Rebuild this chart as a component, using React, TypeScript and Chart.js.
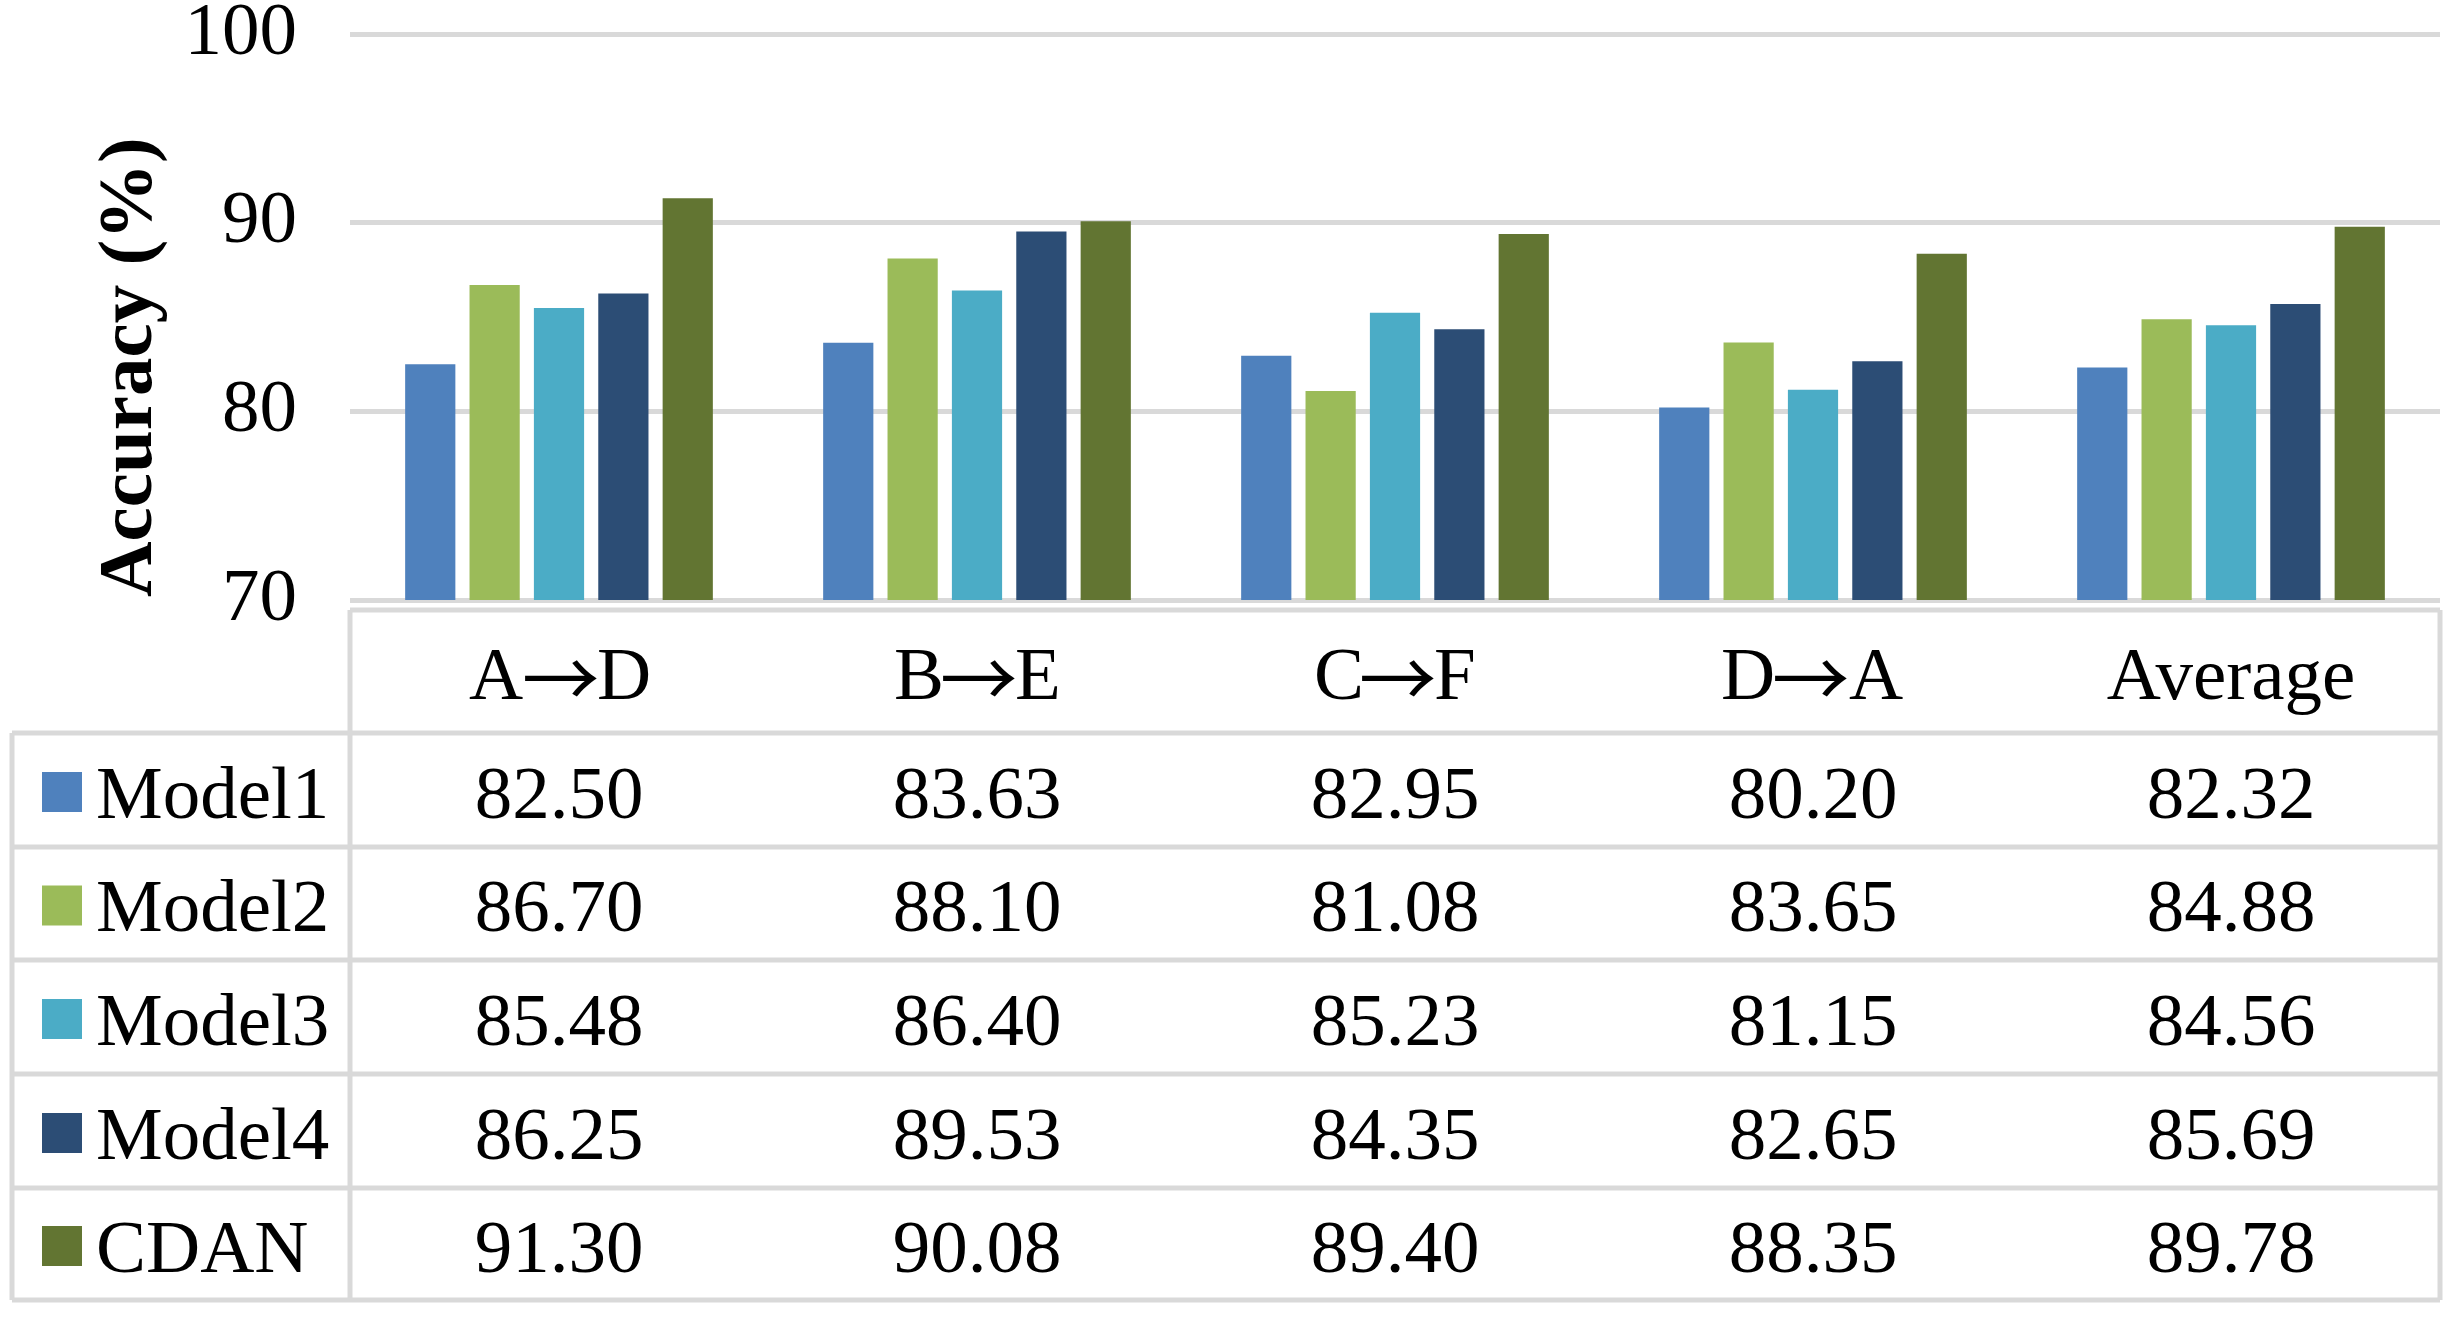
import React, { useEffect, useRef } from "react";
import { Chart, registerables } from "chart.js";

Chart.register(...registerables);

const categories = ["A→D", "B→E", "C→F", "D→A", "Average"];
const seriesNames = ["Model1", "Model2", "Model3", "Model4", "CDAN"];
const model1 = [82.5, 83.63, 82.95, 80.2, 82.32];
const model2 = [86.7, 88.1, 81.08, 83.65, 84.88];
const model3 = [85.48, 86.4, 85.23, 81.15, 84.56];
const model4 = [86.25, 89.53, 84.35, 82.65, 85.69];
const cdan = [91.3, 90.08, 89.4, 88.35, 89.78];
const seriesValues = [model1, model2, model3, model4, cdan];
const yTickValues = [70, 80, 90, 100];
const yTitle = "Accuracy (%)";

const seriesColors = ["#4F81BD", "#9BBB59", "#4BACC6", "#2C4D75", "#627532"];
const GRID = "#D9D9D9";
const FONT = "'Liberation Serif', 'Times New Roman', serif";
const ARROW_FONT = "'Noto Sans CJK SC'";
const FS = 75;

function drawHeaderLabel(ctx: CanvasRenderingContext2D, text: string, cx: number, baseline: number) {
  const idx = text.indexOf("→");
  ctx.textBaseline = "alphabetic";
  ctx.textAlign = "left";
  if (idx < 0) {
    ctx.font = `${FS}px ${FONT}`;
    const w = ctx.measureText(text).width;
    ctx.fillText(text, cx - w / 2, baseline);
    return;
  }
  const a = text.slice(0, idx);
  const b = text.slice(idx + 1);
  ctx.font = `${FS}px ${FONT}`;
  const ma = ctx.measureText(a);
  const mb = ctx.measureText(b);
  ctx.font = `100px ${ARROW_FONT}`;
  const m100 = ctx.measureText("→");
  const ink100 = m100.actualBoundingBoxRight + m100.actualBoundingBoxLeft;
  const arrowSize = (72 / ink100) * 100;
  ctx.font = `${arrowSize}px ${ARROW_FONT}`;
  const mr = ctx.measureText("→");
  const arrowInk = mr.actualBoundingBoxRight + mr.actualBoundingBoxLeft;
  const arrowMid = (mr.actualBoundingBoxAscent - mr.actualBoundingBoxDescent) / 2;
  const aInkR = ma.actualBoundingBoxRight;
  const bInkL = -mb.actualBoundingBoxLeft;
  const gap = 2;
  const total = ma.actualBoundingBoxLeft + aInkR + gap + arrowInk + gap + (mb.actualBoundingBoxRight - bInkL);
  let x = cx - total / 2 + ma.actualBoundingBoxLeft;
  ctx.font = `${FS}px ${FONT}`;
  ctx.fillText(a, x, baseline);
  x += aInkR + gap;
  ctx.font = `${arrowSize}px ${ARROW_FONT}`;
  ctx.fillText("→", x + mr.actualBoundingBoxLeft, baseline - 21 + arrowMid);
  x += arrowInk + gap;
  ctx.font = `${FS}px ${FONT}`;
  ctx.fillText(b, x - bInkL, baseline);
}

const decorPlugin = {
  id: "decor",
  afterDraw(chart: any) {
    const ctx = chart.ctx as CanvasRenderingContext2D;
    const xs = chart.scales.x;
    const area = chart.chartArea;
    ctx.save();

    // y-axis title
    ctx.save();
    ctx.translate(151, 597);
    ctx.rotate(-Math.PI / 2);
    ctx.font = `bold 77px ${FONT}`;
    ctx.fillStyle = "#000";
    ctx.textAlign = "left";
    ctx.textBaseline = "alphabetic";
    ctx.fillText(yTitle, 0, 0);
    ctx.restore();

    // data table
    const outerLeft = 12;
    const divX = area.left;
    const right = area.right;
    const headerTop = 610;
    const rowLines = [733, 847, 960, 1074, 1188, 1300];

    ctx.strokeStyle = GRID;
    ctx.lineWidth = 5;
    ctx.beginPath();
    ctx.moveTo(divX, headerTop);
    ctx.lineTo(right, headerTop);
    rowLines.forEach((y) => {
      ctx.moveTo(outerLeft, y);
      ctx.lineTo(right, y);
    });
    ctx.moveTo(divX, headerTop);
    ctx.lineTo(divX, rowLines[rowLines.length - 1]);
    ctx.moveTo(right, headerTop);
    ctx.lineTo(right, rowLines[rowLines.length - 1]);
    ctx.moveTo(outerLeft, rowLines[0]);
    ctx.lineTo(outerLeft, rowLines[rowLines.length - 1]);
    ctx.stroke();

    ctx.fillStyle = "#000";
    categories.forEach((c, i) => {
      drawHeaderLabel(ctx, c, xs.getPixelForValue(i), 699);
    });

    ctx.font = `${FS}px ${FONT}`;
    ctx.textBaseline = "middle";
    seriesNames.forEach((name, r) => {
      const cy = (rowLines[r] + rowLines[r + 1]) / 2 + 8;
      ctx.fillStyle = seriesColors[r];
      ctx.fillRect(42, cy - 26, 40, 40);
      ctx.fillStyle = "#000";
      ctx.textAlign = "left";
      ctx.fillText(name, 96, cy);
      ctx.textAlign = "center";
      seriesValues[r].forEach((v, i) => {
        ctx.fillText(v.toFixed(2), xs.getPixelForValue(i), cy);
      });
    });

    ctx.restore();
  },
};

export default function App() {
  const ref = useRef<HTMLCanvasElement | null>(null);
  useEffect(() => {
    document.body.style.margin = "0";
    const canvas = ref.current!;
    const chart = new Chart(canvas, {
      type: "bar",
      data: {
        labels: categories,
        datasets: seriesNames.map((n, i) => ({
          label: n,
          data: seriesValues[i],
          backgroundColor: seriesColors[i],
          borderWidth: 0,
          categoryPercentage: 0.77,
          barPercentage: 0.78,
        })),
      },
      options: {
        animation: false,
        responsive: false,
        devicePixelRatio: 1,
        layout: { padding: { top: 34, right: 12, bottom: 718, left: 0 } },
        plugins: { legend: { display: false }, tooltip: { enabled: false } },
        scales: {
          x: { display: false },
          y: {
            min: 70,
            max: 100,
            afterBuildTicks: (s: any) => {
              s.ticks = yTickValues.map((v) => ({ value: v }));
            },
            afterFit: (s: any) => {
              s.width = 350;
              s.paddingTop = 0;
              s.paddingBottom = 0;
            },
            border: { display: false },
            grid: { color: GRID, lineWidth: 5, drawTicks: false },
            ticks: {
              color: "#000",
              padding: 53,
              font: { family: FONT, size: FS },
            },
          },
        },
      },
      plugins: [decorPlugin],
    });
    return () => chart.destroy();
  }, []);
  return (
    <div style={{ width: 2452, height: 1318, background: "#fff" }}>
      <canvas ref={ref} width={2452} height={1318} style={{ display: "block" }} />
    </div>
  );
}
